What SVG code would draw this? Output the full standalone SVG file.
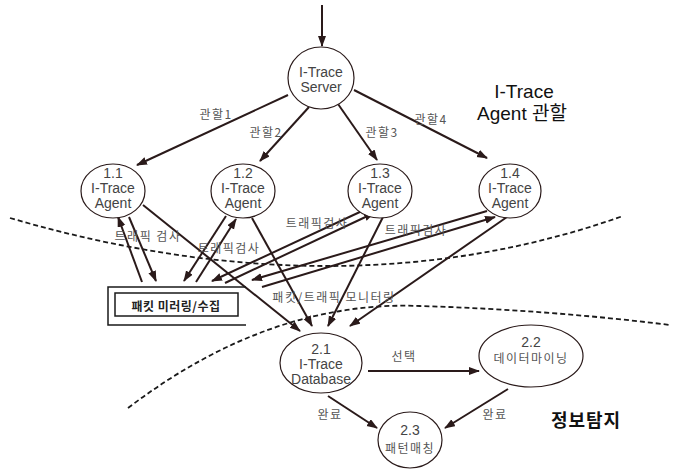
<svg xmlns="http://www.w3.org/2000/svg" width="680" height="471" viewBox="0 0 680 471">
<defs>
<marker id="ah" markerUnits="userSpaceOnUse" markerWidth="11" markerHeight="9" refX="10" refY="4" orient="auto">
<path d="M0,0 L11,4 L0,8 z" fill="#2a1a1a"/>
</marker>
<style>
.n{fill:#fff;stroke:#2a1a1a;stroke-width:1.2}
.t{font-family:"Liberation Sans","Noto Sans CJK KR",sans-serif;font-size:14px;fill:#444;text-anchor:middle}
.k{font-family:"Noto Sans CJK KR",sans-serif;font-size:12px;fill:#555;text-anchor:middle;letter-spacing:1.5px}
.a{fill:none;stroke:#2a1a1a;stroke-width:2;marker-end:url(#ah)}
.d{fill:none;stroke:#1a1a1a;stroke-width:1.8;stroke-dasharray:5,3}
.big{font-family:"Liberation Sans","Noto Sans CJK KR",sans-serif;font-size:19px;fill:#111;text-anchor:middle}
</style>
</defs>
<rect width="680" height="471" fill="#fff"/>
<g id="boundaries">
<path class="d" d="M10,218 Q343,315 623,216"/>
<path class="d" d="M128,408 Q270,300 420,306 Q550,310 670,325"/>
</g>
<g id="connectors">
<line class="a" x1="322" y1="5" x2="322" y2="46"/>
<line class="a" x1="288" y1="95" x2="137" y2="165"/>
<line class="a" x1="309" y1="107" x2="260" y2="161"/>
<line class="a" x1="338" y1="104" x2="377" y2="160"/>
<line class="a" x1="354" y1="90" x2="487" y2="158"/>
<line class="a" x1="142" y1="282" x2="118" y2="217"/>
<line class="a" x1="129" y1="217" x2="156" y2="281"/>
<line class="a" x1="226" y1="216" x2="184" y2="281"/>
<line class="a" x1="196" y1="282" x2="236" y2="219"/>
<line class="a" x1="362" y1="211" x2="212" y2="281"/>
<line class="a" x1="225" y1="283" x2="374" y2="213"/>
<line class="a" x1="487" y1="211" x2="252" y2="280"/>
<line class="a" x1="262" y1="287" x2="495" y2="217"/>
<line class="a" x1="143" y1="205" x2="300" y2="331"/>
<line class="a" x1="252" y1="218" x2="312" y2="326"/>
<line class="a" x1="383" y1="217" x2="328" y2="326"/>
<line class="a" x1="507" y1="217" x2="350" y2="326"/>
<line class="a" x1="368" y1="371" x2="479" y2="371"/>
<line class="a" x1="328" y1="396" x2="377" y2="428"/>
<line class="a" x1="508" y1="389" x2="445" y2="428"/>
<text class="k" x="216" y="119">관할1</text>
<text class="k" x="266" y="137">관할2</text>
<text class="k" x="382" y="137">관할3</text>
<text class="k" x="431" y="124">관할4</text>
<text class="k" x="148" y="241">트래픽 검사</text>
<text class="k" x="229" y="253">트래픽검사</text>
<text class="k" x="317" y="228">트래픽검사</text>
<text class="k" x="416" y="235">트래픽검사</text>
<text class="k" x="334" y="302">패킷/트래픽 모니터링</text>
<text class="k" x="404" y="361">선택</text>
<text class="k" x="330" y="419">완료</text>
<text class="k" x="495" y="419">완료</text>
</g>
<g id="server">
<ellipse class="n" cx="321" cy="78" rx="33" ry="31"/>
<text class="t" x="321" y="77">I-Trace</text>
<text class="t" x="321" y="92">Server</text>
</g>
<g id="agent11">
<ellipse class="n" cx="113" cy="191" rx="32" ry="27"/>
<text class="t" x="113" y="178">1.1</text>
<text class="t" x="113" y="193">I-Trace</text>
<text class="t" x="113" y="208">Agent</text>
</g>
<g id="agent12">
<ellipse class="n" cx="243" cy="191" rx="32" ry="27"/>
<text class="t" x="243" y="178">1.2</text>
<text class="t" x="243" y="193">I-Trace</text>
<text class="t" x="243" y="208">Agent</text>
</g>
<g id="agent13">
<ellipse class="n" cx="380" cy="191" rx="32" ry="27"/>
<text class="t" x="380" y="178">1.3</text>
<text class="t" x="380" y="193">I-Trace</text>
<text class="t" x="380" y="208">Agent</text>
</g>
<g id="agent14">
<ellipse class="n" cx="510" cy="191" rx="31" ry="27"/>
<text class="t" x="510" y="178">1.4</text>
<text class="t" x="510" y="193">I-Trace</text>
<text class="t" x="510" y="208">Agent</text>
</g>
<g id="store">
<path d="M246,287 H108 V325 H246" fill="none" stroke="#1a1a1a" stroke-width="1.5"/>
<rect x="115" y="293" width="123" height="23" fill="#fff" stroke="#1a1a1a" stroke-width="1.5"/>
<text x="176" y="311" font-family="Noto Sans CJK KR, sans-serif" font-size="12" font-weight="bold" fill="#222" text-anchor="middle" letter-spacing="0.5">패킷 미러링/수집</text>
</g>
<g id="database">
<ellipse class="n" cx="321" cy="363" rx="41" ry="30"/>
<text class="t" x="321" y="354">2.1</text>
<text class="t" x="321" y="369">I-Trace</text>
<text class="t" x="321" y="384">Database</text>
</g>
<g id="mining">
<ellipse class="n" cx="531" cy="356" rx="52" ry="31"/>
<text class="t" x="531" y="347">2.2</text>
<text class="k" x="531" y="363">데이터마이닝</text>
</g>
<g id="matching">
<ellipse class="n" cx="410" cy="440" rx="32" ry="28"/>
<text class="t" x="410" y="435">2.3</text>
<text class="k" x="410" y="453">패턴매칭</text>
</g>
<g id="regionlabels">
<text class="big" x="524" y="98">I-Trace</text>
<text class="big" x="522" y="120">Agent 관할</text>
<text x="586" y="427" font-family="Noto Sans CJK KR, sans-serif" font-size="18" font-weight="bold" fill="#111" text-anchor="middle" letter-spacing="1">정보탐지</text>
</g>
</svg>
